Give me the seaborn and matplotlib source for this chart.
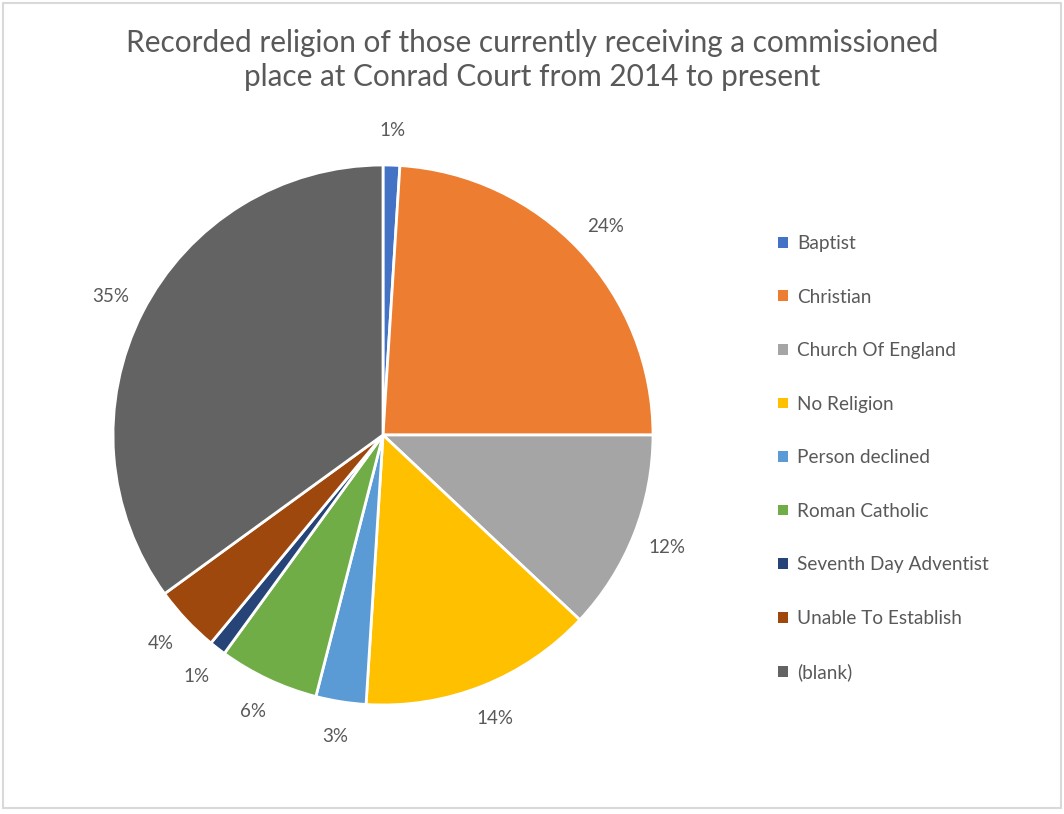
import matplotlib
matplotlib.use("Agg")
import matplotlib.pyplot as plt
import seaborn as sns
from matplotlib.patches import Rectangle

categories = ["Baptist", "Christian", "Church Of England", "No Religion",
              "Person declined", "Roman Catholic", "Seventh Day Adventist",
              "Unable To Establish", "(blank)"]
shares = [1, 24, 12, 14, 3, 6, 1, 4, 35]
title = "Recorded religion of those currently receiving a commissioned\nplace at Conrad Court from 2014 to present"

sns.set_theme(style="white")
plt.rcParams["font.family"] = ["Lato", "DejaVu Sans"]

palette = sns.color_palette(["#4472C4", "#ED7D31", "#A5A5A5", "#FFC000",
                             "#5B9BD5", "#70AD47", "#264478", "#9E480E",
                             "#636363"])
text_color = "#595959"

W, H = 1064, 814
fig = plt.figure(figsize=(W / 100, H / 100), dpi=100)

# light chart-area border
fig.patches.append(Rectangle((3 / W, 6 / H), (W - 6) / W, (H - 9) / H,
                             transform=fig.transFigure, fill=False,
                             edgecolor="#D9D9D9", linewidth=1.5))

cx, cy, r = 383, 435, 270
ax = fig.add_axes([(cx - r) / W, (H - cy - r) / H, 2 * r / W, 2 * r / H])
wedges, _, autotexts = ax.pie(
    shares, colors=palette, startangle=90, counterclock=False,
    autopct="%.0f%%", pctdistance=1.13,
    wedgeprops=dict(edgecolor="white", linewidth=2),
    textprops=dict(color=text_color, fontsize=13.5))
ax.set_xlim(-1, 1)
ax.set_ylim(-1, 1)
ax.set_aspect("equal")

fig.text(532 / W, 1 - 60 / H, title, ha="center", va="center",
         fontsize=21.4, color=text_color, linespacing=1.3)

leg = fig.legend(wedges, categories, loc="upper left",
                 bbox_to_anchor=(761 / W, 1 - 218 / H), frameon=False,
                 fontsize=13.7, handlelength=0.5, handleheight=0.5,
                 handletextpad=0.5, labelspacing=1.92, labelcolor=text_color)
for h in leg.legend_handles:
    h.set_linewidth(0)

fig.savefig("out.png", dpi=100, facecolor="white")
